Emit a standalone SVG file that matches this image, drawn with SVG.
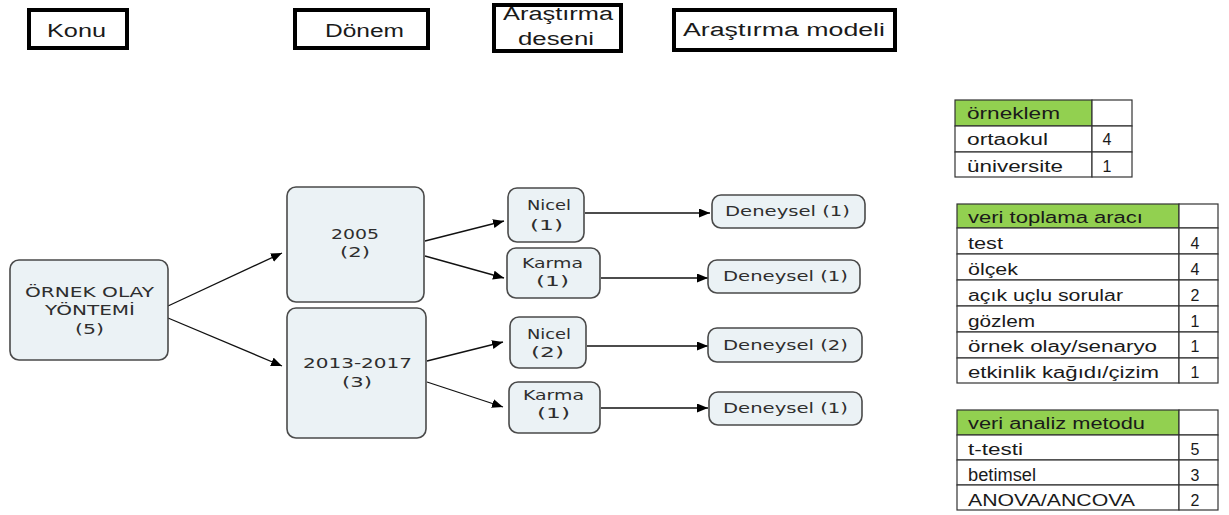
<svg xmlns="http://www.w3.org/2000/svg" width="1229" height="515" viewBox="0 0 1229 515">
<defs>
<marker id="ah" markerUnits="userSpaceOnUse" markerWidth="12" markerHeight="10" refX="11" refY="4.5" orient="auto">
<path d="M0,0 L11,4.5 L0,9 Z" fill="#000"/>
</marker>
<style>
.hdr{fill:#fff;stroke:#000;stroke-width:4}
.ht{font-family:"Liberation Sans",Arial,sans-serif;font-size:18px;fill:#1a1a1a}
.nd{fill:#ebf2f5;stroke:#4a4a4a;stroke-width:1.6}
.nt{font-family:"DejaVu Sans",Verdana,sans-serif;font-size:13.5px;fill:#2e2e2e}
.cn{stroke:#111;stroke-width:1.3;fill:none;marker-end:url(#ah)}
.tc{fill:#fff;stroke:#333;stroke-width:1.2}
.th{fill:#92d050;stroke:#333;stroke-width:1.2}
.tt{font-family:"Liberation Sans",Arial,sans-serif;font-size:16px;fill:#1a1a1a}
.tn{font-family:"Liberation Sans",Arial,sans-serif;font-size:16px;fill:#1a1a1a;text-anchor:middle}
</style>
</defs>
<rect width="1229" height="515" fill="#fff"/>

<g id="hdr-konu"><rect class="hdr" x="29" y="10" width="98" height="38"/><text class="ht" x="47" y="37" textLength="59" lengthAdjust="spacingAndGlyphs">Konu</text></g>
<g id="hdr-donem"><rect class="hdr" x="295" y="10" width="133" height="38"/><text class="ht" x="325" y="37" textLength="79" lengthAdjust="spacingAndGlyphs">Dönem</text></g>
<g id="hdr-desen"><rect class="hdr" x="494" y="5" width="127" height="46"/><text class="ht" x="503" y="20" textLength="110" lengthAdjust="spacingAndGlyphs">Araştırma</text><text class="ht" x="518" y="45" textLength="76" lengthAdjust="spacingAndGlyphs">deseni</text></g>
<g id="hdr-model"><rect class="hdr" x="674" y="10" width="221" height="40"/><text class="ht" x="683" y="36" textLength="202" lengthAdjust="spacingAndGlyphs">Araştırma modeli</text></g>

<g id="connectors">
<line class="cn" x1="168" y1="306" x2="282" y2="253"/>
<line class="cn" x1="168" y1="318" x2="282" y2="366"/>
<line class="cn" x1="425" y1="241" x2="504" y2="221"/>
<line class="cn" x1="425" y1="256" x2="504" y2="278"/>
<line class="cn" x1="427" y1="361" x2="503" y2="342"/>
<line class="cn" x1="427" y1="382" x2="503" y2="407"/>
<line class="cn" x1="585" y1="213" x2="710" y2="213"/>
<line class="cn" x1="601" y1="278" x2="708" y2="278"/>
<line class="cn" x1="587" y1="346" x2="708" y2="346"/>
<line class="cn" x1="601" y1="408" x2="708" y2="408"/>
</g>

<g id="n-ornek"><rect class="nd" x="10" y="260" width="158" height="100" rx="9"/>
<text class="nt" x="25" y="297" textLength="129" lengthAdjust="spacingAndGlyphs">ÖRNEK OLAY</text>
<text class="nt" x="45" y="315" textLength="90" lengthAdjust="spacingAndGlyphs">YÖNTEMİ</text>
<text class="nt" x="75" y="334" textLength="29" lengthAdjust="spacingAndGlyphs">(5)</text></g>

<g id="n-2005"><rect class="nd" x="287" y="187" width="137" height="115" rx="9"/>
<text class="nt" x="331" y="239" textLength="48" lengthAdjust="spacingAndGlyphs">2005</text>
<text class="nt" x="340" y="257" textLength="30" lengthAdjust="spacingAndGlyphs">(2)</text></g>

<g id="n-2013"><rect class="nd" x="287" y="308" width="139" height="130" rx="9"/>
<text class="nt" x="303" y="368" textLength="109" lengthAdjust="spacingAndGlyphs">2013-2017</text>
<text class="nt" x="342" y="387" textLength="30" lengthAdjust="spacingAndGlyphs">(3)</text></g>

<g id="n-nicel1"><rect class="nd" x="508" y="188" width="76" height="54" rx="9"/>
<text class="nt" x="527" y="210" textLength="44" lengthAdjust="spacingAndGlyphs">Nicel</text>
<text class="nt" x="530" y="230" textLength="33" lengthAdjust="spacingAndGlyphs">(1)</text></g>

<g id="n-karma1"><rect class="nd" x="507" y="248" width="93" height="50" rx="9"/>
<text class="nt" x="522" y="268" textLength="61" lengthAdjust="spacingAndGlyphs">Karma</text>
<text class="nt" x="536" y="286" textLength="33" lengthAdjust="spacingAndGlyphs">(1)</text></g>

<g id="n-nicel2"><rect class="nd" x="510" y="317" width="76" height="51" rx="9"/>
<text class="nt" x="527" y="339" textLength="44" lengthAdjust="spacingAndGlyphs">Nicel</text>
<text class="nt" x="531" y="357" textLength="33" lengthAdjust="spacingAndGlyphs">(2)</text></g>

<g id="n-karma2"><rect class="nd" x="509" y="382" width="91" height="51" rx="9"/>
<text class="nt" x="523" y="400" textLength="61" lengthAdjust="spacingAndGlyphs">Karma</text>
<text class="nt" x="537" y="418" textLength="33" lengthAdjust="spacingAndGlyphs">(1)</text></g>

<g id="n-dene1"><rect class="nd" x="712" y="195" width="153" height="33" rx="9"/>
<text class="nt" x="725" y="216" textLength="125" lengthAdjust="spacingAndGlyphs">Deneysel (1)</text></g>
<g id="n-dene2"><rect class="nd" x="708" y="260" width="152" height="33" rx="9"/>
<text class="nt" x="723" y="281" textLength="125" lengthAdjust="spacingAndGlyphs">Deneysel (1)</text></g>
<g id="n-dene3"><rect class="nd" x="708" y="328" width="154" height="34" rx="9"/>
<text class="nt" x="723" y="350" textLength="125" lengthAdjust="spacingAndGlyphs">Deneysel (2)</text></g>
<g id="n-dene4"><rect class="nd" x="709" y="392" width="153" height="33" rx="9"/>
<text class="nt" x="723" y="413" textLength="125" lengthAdjust="spacingAndGlyphs">Deneysel (1)</text></g>

<g id="t-orneklem">
<rect class="th" x="955" y="100" width="137" height="26"/><rect class="tc" x="1092" y="100" width="40" height="26"/>
<rect class="tc" x="955" y="126" width="137" height="26"/><rect class="tc" x="1092" y="126" width="40" height="26"/>
<rect class="tc" x="955" y="152" width="137" height="25"/><rect class="tc" x="1092" y="152" width="40" height="25"/>
<text class="tt" x="967" y="119" textLength="93" lengthAdjust="spacingAndGlyphs">örneklem</text>
<text class="tt" x="967" y="145" textLength="81" lengthAdjust="spacingAndGlyphs">ortaokul</text>
<text class="tt" x="967" y="172" textLength="96" lengthAdjust="spacingAndGlyphs">üniversite</text>
<text class="tn" x="1107" y="145">4</text>
<text class="tn" x="1107" y="172">1</text>
</g>

<g id="t-veri-toplama">
<rect class="th" x="957" y="204" width="222" height="24"/><rect class="tc" x="1179" y="204" width="39" height="24"/>
<rect class="tc" x="957" y="228" width="222" height="26"/><rect class="tc" x="1179" y="228" width="39" height="26"/>
<rect class="tc" x="957" y="254" width="222" height="26"/><rect class="tc" x="1179" y="254" width="39" height="26"/>
<rect class="tc" x="957" y="280" width="222" height="26"/><rect class="tc" x="1179" y="280" width="39" height="26"/>
<rect class="tc" x="957" y="306" width="222" height="26"/><rect class="tc" x="1179" y="306" width="39" height="26"/>
<rect class="tc" x="957" y="332" width="222" height="26"/><rect class="tc" x="1179" y="332" width="39" height="26"/>
<rect class="tc" x="957" y="358" width="222" height="25"/><rect class="tc" x="1179" y="358" width="39" height="25"/>
<text class="tt" x="968" y="223" textLength="175" lengthAdjust="spacingAndGlyphs">veri toplama aracı</text>
<text class="tt" x="968" y="249" textLength="35" lengthAdjust="spacingAndGlyphs">test</text>
<text class="tt" x="968" y="275" textLength="50" lengthAdjust="spacingAndGlyphs">ölçek</text>
<text class="tt" x="968" y="301" textLength="155" lengthAdjust="spacingAndGlyphs">açık uçlu sorular</text>
<text class="tt" x="968" y="327" textLength="67" lengthAdjust="spacingAndGlyphs">gözlem</text>
<text class="tt" x="968" y="352" textLength="189" lengthAdjust="spacingAndGlyphs">örnek olay/senaryo</text>
<text class="tt" x="968" y="378" textLength="191" lengthAdjust="spacingAndGlyphs">etkinlik kağıdı/çizim</text>
<text class="tn" x="1195" y="249">4</text>
<text class="tn" x="1195" y="275">4</text>
<text class="tn" x="1195" y="301">2</text>
<text class="tn" x="1195" y="327">1</text>
<text class="tn" x="1195" y="352">1</text>
<text class="tn" x="1195" y="378">1</text>
</g>

<g id="t-veri-analiz">
<rect class="th" x="957" y="410" width="222" height="25"/><rect class="tc" x="1179" y="410" width="39" height="25"/>
<rect class="tc" x="957" y="435" width="222" height="25"/><rect class="tc" x="1179" y="435" width="39" height="25"/>
<rect class="tc" x="957" y="460" width="222" height="25"/><rect class="tc" x="1179" y="460" width="39" height="25"/>
<rect class="tc" x="957" y="485" width="222" height="25"/><rect class="tc" x="1179" y="485" width="39" height="25"/>
<text class="tt" x="968" y="429" textLength="177" lengthAdjust="spacingAndGlyphs">veri analiz metodu</text>
<text class="tt" x="968" y="455" textLength="55" lengthAdjust="spacingAndGlyphs">t-testi</text>
<text class="tt" x="968" y="481" style="font-size:17.5px" textLength="68" lengthAdjust="spacingAndGlyphs">betimsel</text>
<text class="tt" x="968" y="506" textLength="167" lengthAdjust="spacingAndGlyphs">ANOVA/ANCOVA</text>
<text class="tn" x="1195" y="455">5</text>
<text class="tn" x="1195" y="481">3</text>
<text class="tn" x="1195" y="506">2</text>
</g>
</svg>
